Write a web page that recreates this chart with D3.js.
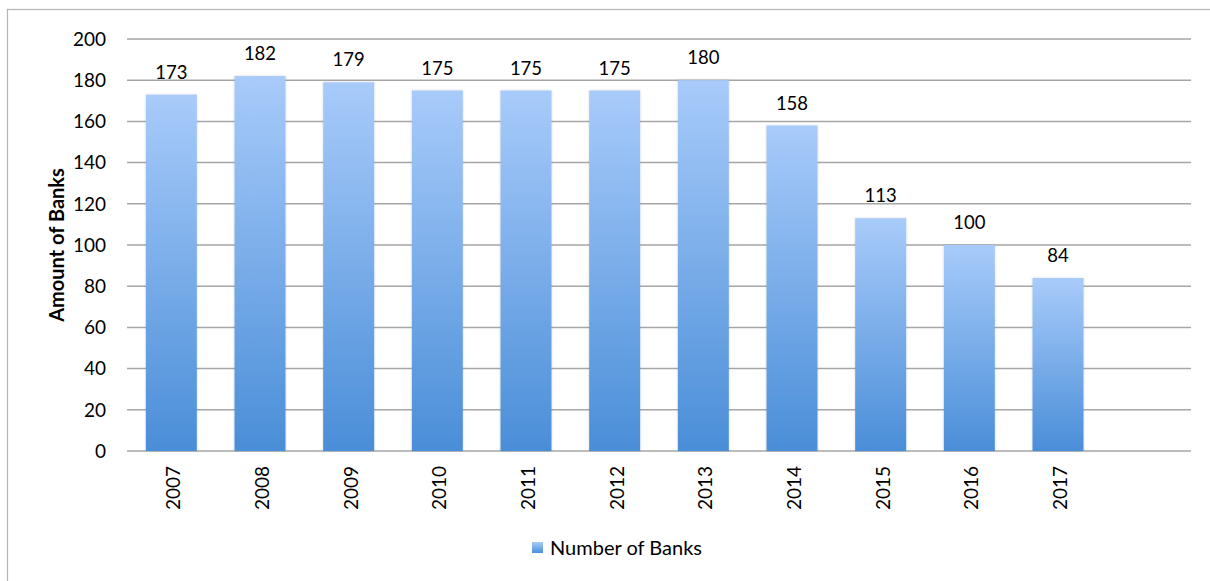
<!DOCTYPE html>
<html>
<head>
<meta charset="utf-8">
<script src="https://cdn.jsdelivr.net/npm/d3@7"></script>
<style>
  html, body { margin: 0; padding: 0; background: #fff; }
  svg { display: block; font-family: Lato, "Open Sans", sans-serif; }
</style>
</head>
<body>
<svg id="chart" width="1210" height="581"></svg>
<script>
// Number of banks per year
const years = ["2007", "2008", "2009", "2010", "2011", "2012", "2013", "2014", "2015", "2016", "2017"];
const banks = [173, 182, 179, 175, 175, 175, 180, 158, 113, 100, 84];
const yTicks = [0, 20, 40, 60, 80, 100, 120, 140, 160, 180, 200];
const seriesName = "Number of Banks";
const yTitle = "Amount of Banks";

const svg = d3.select("#chart");

// Plot area; the category axis has one spare slot at the right end
const plot = { left: 127, right: 1191, top: 39, bottom: 451 };
const slots = years.length + 1;
const step = (plot.right - plot.left) / slots;

const x = d3.scaleBand()
  .domain(years)
  .range([plot.left, plot.left + step * years.length])
  .paddingInner(0.425)
  .paddingOuter(0.2125);

const y = d3.scaleLinear().domain([0, 200]).range([plot.bottom, plot.top]);

// Outer frame
svg.append("rect")
  .attr("x", 7.5).attr("y", 9.5)
  .attr("width", 1230).attr("height", 600)
  .attr("fill", "none").attr("stroke", "#b4b4b4").attr("stroke-width", 1.2);

// Bar gradient
const defs = svg.append("defs");
const grad = defs.append("linearGradient")
  .attr("id", "barFill").attr("x1", 0).attr("y1", 0).attr("x2", 0).attr("y2", 1);
grad.append("stop").attr("offset", "0%").attr("stop-color", "#a8cbfa");
grad.append("stop").attr("offset", "100%").attr("stop-color", "#4a8ed8");
const shadow = defs.append("filter").attr("id", "soft")
  .attr("x", "-10%").attr("y", "-10%").attr("width", "120%").attr("height", "120%");
shadow.append("feDropShadow").attr("dx", 0).attr("dy", 0).attr("stdDeviation", 1.2)
  .attr("flood-color", "#000").attr("flood-opacity", 0.18);

// Horizontal gridlines
svg.append("g").selectAll("line")
  .data(yTicks)
  .join("line")
  .attr("x1", plot.left).attr("x2", plot.right)
  .attr("y1", d => y(d)).attr("y2", d => y(d))
  .attr("stroke", "#a6a6a6").attr("stroke-width", 1.5);

// Y tick labels
svg.append("g").selectAll("text")
  .data(yTicks)
  .join("text")
  .attr("x", 106).attr("y", d => y(d))
  .attr("dy", "0.36em")
  .attr("text-anchor", "end")
  .attr("font-size", 19)
  .attr("fill", "#000")
  .text(d => d);

const rows = years.map((yr, i) => ({ yr, v: banks[i] }));

// Bars
svg.append("g").selectAll("rect")
  .data(rows)
  .join("rect")
  .attr("x", d => x(d.yr))
  .attr("y", d => y(d.v))
  .attr("width", x.bandwidth())
  .attr("height", d => y(0) - y(d.v))
  .attr("fill", "url(#barFill)")
  .attr("filter", "url(#soft)");

// Value labels
svg.append("g").selectAll("text")
  .data(rows)
  .join("text")
  .attr("x", d => x(d.yr) + x.bandwidth() / 2)
  .attr("y", d => y(d.v) - 16)
  .attr("text-anchor", "middle")
  .attr("font-size", 18.5)
  .attr("fill", "#000")
  .text(d => d.v);

// Category labels, rotated
svg.append("g").selectAll("text")
  .data(years)
  .join("text")
  .attr("transform", d => `translate(${x(d) + x.bandwidth() / 2 + 2},466) rotate(-90)`)
  .attr("dy", "0.36em")
  .attr("text-anchor", "end")
  .attr("font-size", 19)
  .attr("fill", "#000")
  .text(d => d);

// Y axis title
svg.append("text")
  .attr("transform", `translate(57,${(plot.top + plot.bottom) / 2}) rotate(-90)`)
  .attr("dy", "0.36em")
  .attr("text-anchor", "middle")
  .attr("font-size", 20)
  .attr("font-weight", "bold")
  .attr("fill", "#000")
  .text(yTitle);

// Legend
const legend = svg.append("g").attr("transform", "translate(532,542)");
legend.append("rect")
  .attr("width", 11).attr("height", 11)
  .attr("fill", "url(#barFill)");
legend.append("text")
  .attr("x", 18).attr("y", 5.5)
  .attr("dy", "0.36em")
  .attr("font-size", 20)
  .attr("fill", "#000")
  .text(seriesName);
</script>
</body>
</html>
